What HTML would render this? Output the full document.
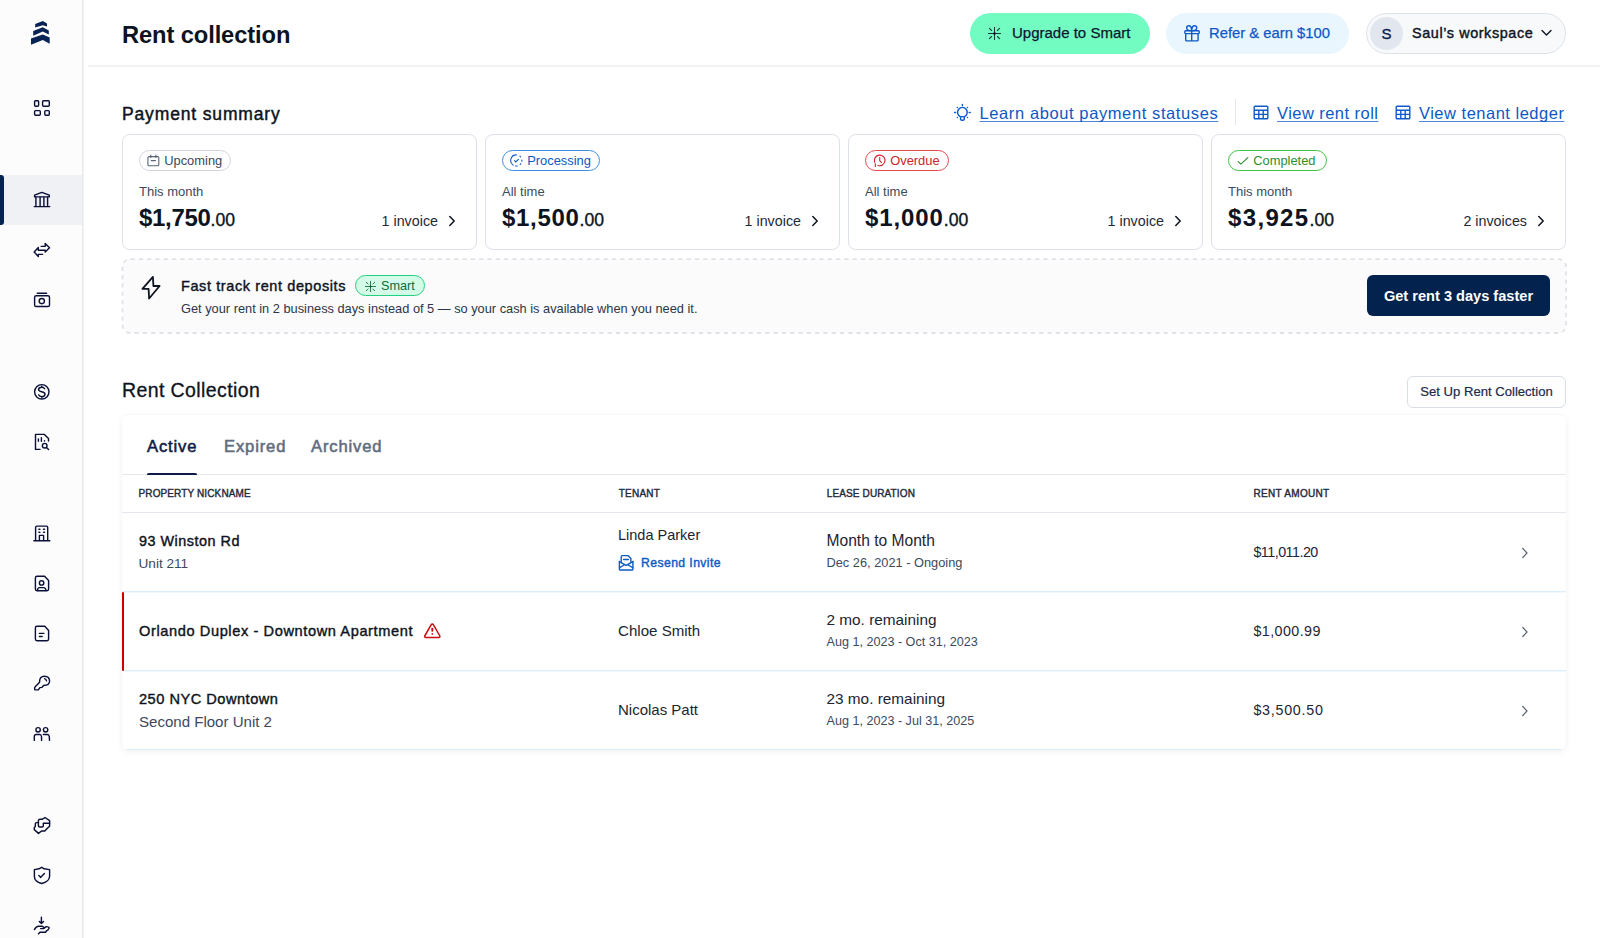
<!DOCTYPE html>
<html lang="en">
<head>
<meta charset="utf-8">
<title>Rent collection</title>
<style>
*{box-sizing:border-box;margin:0;padding:0}
html,body{width:1600px;height:938px;overflow:hidden;background:#fff}
body{font-family:"Liberation Sans",Arial,sans-serif;color:#0d1321;position:relative}
.abs{position:absolute}
.nw{white-space:nowrap}
/* sidebar */
#sb{position:absolute;left:0;top:0;width:83px;height:938px;background:#fcfcfc;border-right:1px solid #e8e9ec;box-shadow:1px 0 0 #f2f3f3}
#sb .act{position:absolute;left:0;top:175px;width:82px;height:50px;background:#eff1f5}
#sb .bar{position:absolute;left:0;top:175px;width:4px;height:50px;background:#062250;border-radius:0 3px 3px 0}
#sbsvg{position:absolute;left:0;top:0}
/* header */
#hdr-line{position:absolute;left:88px;top:65px;width:1512px;height:2px;background:linear-gradient(#eef0f2,#f3f4f5)}
h1{position:absolute;left:122px;top:21px;font-size:23.7px;line-height:28px;font-weight:700;letter-spacing:-0.1px;color:#0d1321}
.pill{position:absolute;top:13px;height:41px;border-radius:21px;display:flex;align-items:center}

.pill .tx{font-size:15px;line-height:18px;white-space:nowrap}
#up{left:970px;width:180px;background:#72fcc2;color:#0d1530}
#ref{left:1166px;width:183px;background:#eaf6fe;color:#0d58c4}
#ws{left:1366px;width:200px;background:#f8f9fb;border:1px solid #dde2ea}
#ws .av{position:absolute;left:3px;top:3px;width:33px;height:33px;border-radius:50%;background:#e2e6ee;color:#0d1d4a;font-size:15px;line-height:33px;text-align:center;-webkit-text-stroke:0.35px #0d1d4a}
.sec-t{position:absolute;font-weight:700;white-space:nowrap}
.lnk{position:absolute;top:103px;font-size:16.5px;line-height:20px;letter-spacing:0.6px;color:#0d58c4;text-decoration:underline;text-decoration-color:#4d89d4;text-decoration-skip-ink:none;text-underline-offset:2.2px;text-decoration-thickness:1px;white-space:nowrap}
.card{position:absolute;top:134px;width:355px;height:116px;border:1px solid #dde2ea;border-radius:8px;background:#fff}
.badge{position:absolute;left:16px;top:15px;height:21px;border:1px solid #d0d5dd;border-radius:11px;font-size:12.9px;line-height:19.6px;white-space:nowrap;padding-left:24.2px;color:#3c4858}
.badge svg{position:absolute;left:7px;top:2.7px}
.card .per{position:absolute;left:16px;top:48.5px;font-size:13px;line-height:16px;color:#3b4a5e;white-space:nowrap}
.card .amt{position:absolute;left:16px;top:69px;font-size:24px;line-height:28px;font-weight:700;color:#0d1321;white-space:nowrap;letter-spacing:-0.3px}
.card .amt small{font-size:17.6px;font-weight:400;-webkit-text-stroke:0.35px #0d1321;letter-spacing:0}
.card .inv{position:absolute;right:38px;top:77px;font-size:14.3px;line-height:18px;color:#1d2939;white-space:nowrap}
.card .chev{position:absolute;right:20px;top:80px}

#ft{position:absolute;left:122px;top:258px;width:1444px;height:75px}
#ft .dash{position:absolute;left:0;top:0}
#ft .t{position:absolute;left:59px;top:19px;font-size:14.5px;line-height:18px;font-weight:400;-webkit-text-stroke:0.4px #0d1321;letter-spacing:0.6px;white-space:nowrap}
#ft .s{position:absolute;left:59px;top:42.5px;font-size:12.8px;line-height:16px;color:#2b3648;white-space:nowrap}
#ft .sm{position:absolute;left:233px;top:17px;width:70px;height:21px;border:1px solid #22d17f;background:#d4fbe8;border-radius:11px;color:#0b6b3d;font-size:12.7px;line-height:20.6px;padding-left:25px;white-space:nowrap}
#ft .btn{position:absolute;left:1245px;top:17px;width:183px;height:41px;background:#03224e;border-radius:6px;color:#fff;font-weight:700;font-size:14.6px;line-height:43px;text-align:center;white-space:nowrap}
#rc-t{position:absolute;left:122px;top:378.2px;font-size:19.5px;letter-spacing:0.4px;line-height:24px;white-space:nowrap;-webkit-text-stroke:0.3px #0d1321}
#setup{position:absolute;left:1407px;top:376px;width:159px;height:32px;border:1px solid #d9dee6;border-radius:6px;font-size:13.1px;line-height:30px;text-align:center;color:#1b2a4a;white-space:nowrap;-webkit-text-stroke:0.2px #1b2a4a}
#tbl{position:absolute;left:122px;top:415px;width:1444px;height:335px;background:#fff;border-radius:6px;overflow:hidden;box-shadow:0 2px 7px rgba(16,24,40,0.05),0 0 2px rgba(16,24,40,0.05)}
.tab{position:absolute;top:21.5px;font-size:16.6px;line-height:20px;font-weight:400;-webkit-text-stroke:0.55px currentColor;letter-spacing:0.85px;white-space:nowrap;color:#5e6c7f}
#tbl .tabline{position:absolute;left:0;top:59px;width:1444px;height:1px;background:#e3e7ed}
#tbl .uline{position:absolute;left:25px;top:57.6px;width:50px;height:2.4px;background:#101c48;border-radius:1.5px 1.5px 0 0}
.th{position:absolute;top:72.5px;font-size:10px;line-height:12px;font-weight:400;-webkit-text-stroke:0.4px #1f2a3c;color:#1f2a3c;white-space:nowrap;letter-spacing:0.12px}
#tbl .hline{position:absolute;left:0;top:97px;width:1444px;height:1px;background:#e3e7ed}
.row{position:absolute;left:0;width:1444px;height:79px;border-bottom:1px solid #dbeefc;box-shadow:0 1px 0 #f1f8fe}
.row .c{position:absolute;white-space:nowrap}
.b14{font-size:14.4px;font-weight:700;color:#0d1321}
.sb{font-weight:400;-webkit-text-stroke:0.4px #0d1321}
.r14{font-size:14.5px;color:#1d2433}
.s14{font-size:14.2px;color:#3b4a5e}
.s12{font-size:12.8px;color:#3b4a5e}
.row .chev{position:absolute;left:1399px;top:34px}
</style>
</head>
<body>
<div id="sb">
  <div class="act"></div>
  <div class="bar"></div>
  <svg id="sbsvg" width="82" height="938" viewBox="0 0 82 938" fill="none" stroke="#0a0f38" stroke-width="1.42" stroke-linecap="round" stroke-linejoin="round">
    <!-- logo -->
    <g fill="#062354" stroke="none">
      <polygon points="35.2,24 42.8,21 47,23.4 47,26.6 42.8,25.3 35.2,27.6"/>
      <polygon points="33.2,31 42.8,27.3 48.8,30.4 48.8,34.6 42.8,31.6 33.2,35.8"/>
      <polygon points="31,38.6 42.8,34.4 49.7,37.4 49.7,43.8 42.8,40.1 31,44.8"/>
    </g>
    <!-- grid -->
    <rect x="34.6" y="100.7" width="4" height="5.5" rx="1"/>
    <rect x="42.6" y="100.7" width="6.7" height="5.5" rx="1"/>
    <rect x="34.6" y="110.6" width="5.7" height="4.7" rx="1"/>
    <rect x="44.8" y="110.6" width="4.5" height="4.7" rx="1"/>
    <!-- bank -->
    <path d="M34.6,195.2 L41.8,192.4 L49.3,195.2 V196.9 H34.6 Z"/>
    <path d="M35.9,197.2 V206.2 M40.1,197.2 V206.2 M43.9,197.2 V206.2 M47.6,197.2 V206.2 M34.2,206.6 H49.8"/>
    <!-- arrows -->
    <path d="M41.2,246.4 H45.2 V243.5 L49.5,247.8 L45.2,252.1 V250.3 H38.3 V247.5 L34.2,252 L38.3,256.4 V254.4 H42.6"/>
    <!-- cash -->
    <path d="M37.3,293.3 H46.6"/>
    <rect x="34.6" y="295.7" width="14.9" height="10.8" rx="1.6"/>
    <circle cx="41.8" cy="301.1" r="2.6"/>
    <!-- dollar -->
    <circle cx="41.8" cy="391.8" r="7.2"/>
    <path d="M44.6,388.8 C44,387.6 43,387.2 41.8,387.2 C40.2,387.2 38.6,388 38.6,389.5 C38.6,392.6 45,391 45,394.2 C45,395.8 43.4,396.6 41.8,396.6 C40.4,396.6 39.2,396 38.6,394.8 M41.8,386.2 V387.2 M41.8,396.6 V397.5"/>
    <!-- doc search -->
    <path d="M40,449.4 H35.5 V434.4 H44.4 L48.5,438.5 V441"/>
    <path d="M38.4,439 V441.2 M41.4,437.6 V441.2 M44.5,440.6 V441"/>
    <circle cx="44.7" cy="445.7" r="2.3"/>
    <path d="M46.4,447.4 L48.6,449.5"/>
    <!-- building -->
    <path d="M35.6,540.6 V527.5 Q35.6,526.1 37,526.1 H46.3 Q47.7,526.1 47.7,527.5 V540.6 M33.9,540.7 H49.8"/>
    <path d="M39.4,540.6 V535.4 H43.6 V540.6"/>
    <path d="M38.9,529.3 H39.9 M43.5,529.3 H44.5 M38.9,532.3 H39.9 M43.5,532.3 H44.5"/>
    <!-- contact doc -->
    <path d="M44.6,576.3 H37 Q35.4,576.3 35.4,577.9 V589.1 Q35.4,590.7 37,590.7 H47 Q48.6,590.7 48.6,589.1 V580.4 Z"/>
    <circle cx="41.6" cy="582.9" r="2.2"/>
    <path d="M37.4,590.5 Q37.6,587.6 39.6,587.6 H43.6 Q45.4,587.6 46,590.2"/>
    <!-- doc -->
    <path d="M44.8,626.3 H37 Q35.4,626.3 35.4,627.9 V639.1 Q35.4,640.7 37,640.7 H47 Q48.6,640.7 48.6,639.1 V630.5 Z"/>
    <path d="M39.4,633.4 H43.9 M39.4,636.5 H42.2"/>
    <!-- key -->
    <path d="M39.6,681.8 Q39.4,676.3 44.4,676.3 Q49.6,676.4 49.6,681.2 Q49.4,685.4 43.6,685.5 L41.8,687.4 L39.9,687.6 L38.5,689.7 L35.4,689.9 Q34.6,689.9 34.6,689 Q34.5,687.6 35.2,686.8 L39.6,682.3"/>
    <path d="M44.6,678.7 Q46.1,679.2 46.5,680.8"/>
    <!-- people -->
    <circle cx="38.1" cy="729.8" r="2.2"/>
    <circle cx="45.6" cy="729.8" r="2.2"/>
    <path d="M34.3,740.4 V736.6 Q34.3,734.5 36.2,734.5 H39.9 Q41.2,734.5 41.5,736.5 L41.6,740.4"/>
    <path d="M43.4,734.5 H47.4 Q48.9,734.5 49.3,736.6 L49.5,740.4"/>
    <!-- handshake/chat -->
    <path d="M38.4,820.5 Q38.6,819.3 40,819.2 H42.5 L45,817.5 L49.6,820.6 V826.3 L47.9,827.8"/>
    <path d="M49.6,823.3 H43.3 V825.8 Q43.3,827 42,827 H39.8 Q38.5,827 38.4,825.6 V820.8"/>
    <path d="M38.4,822.6 H36.5 Q35.3,822.6 35.3,823.8 V826.4 L34.3,827.4 V829.6 L38.5,833.4 L41.5,831 H44.8 L47.4,828.2"/>
    <!-- shield -->
    <path d="M34.4,869.6 L39,868.8 L41.6,867.3 L44.2,868.8 L49.6,869.6 V876.5 Q49.2,881.6 41.6,883.5 Q34.4,881.6 34.4,876.5 Z"/>
    <path d="M38.8,875.4 L40.5,877.4 L44.4,873.4"/>
    <!-- hand -->
    <path d="M41.4,917.2 V923.6 M39.3,921.6 L41.4,923.6 L43.5,921.6"/>
    <path d="M34.4,929.6 Q36.3,926.3 38.5,926.3 H42.4 L44.6,927.8 M40.6,928.6 H43.5 L46.3,926.7 Q48.4,926.4 49.2,927.9 Q48.6,930.2 46.4,931 L45.5,932.2 H40 L38.5,933.8"/>
  </svg>
</div>

<div id="hdr-line"></div>
<h1>Rent collection</h1>


<div class="pill" id="up">
  <svg class="abs" style="left:18px;top:14px" width="13" height="13" viewBox="0 0 13 13" fill="none" stroke="#173a3a" stroke-width="1.05" stroke-linecap="round"><path d="M6.5,0.3V12.7M0.3,6.5H12.7M1.4,1.4L3.6,3.5M11.6,1.4L9.4,3.5M1.4,11.6L3.6,9.5M11.6,11.6L9.4,9.5"/><circle cx="6.5" cy="6.5" r="1.3" fill="#0a1030" stroke="none"/></svg>
  <span class="tx abs" style="left:42px;top:11px;-webkit-text-stroke:0.25px #0d1530">Upgrade to Smart</span>
</div>
<div class="pill" id="ref">
  <svg class="abs" style="left:18px;top:12px" width="16" height="17" viewBox="0 0 16 17" fill="none" stroke="#0d5bc8" stroke-width="1.4" stroke-linejoin="round"><rect x="0.8" y="5.7" width="14.4" height="2.9" rx="0.8"/><path d="M1.7,8.6V15.1Q1.7,15.9 2.5,15.9H13.3Q14.1,15.9 14.1,15.1V8.6M7.7,5.7V15.9"/><path d="M7.7,5.6C4.7,5.6 2.7,4.6 2.7,2.9C2.7,1.4 3.7,0.8 4.9,0.8C6.5,0.8 7.5,2.6 7.7,5.6ZM7.7,5.6C10.7,5.6 12.7,4.6 12.7,2.9C12.7,1.4 11.7,0.8 10.5,0.8C8.9,0.8 7.9,2.6 7.7,5.6Z"/></svg>
  <span class="tx abs" style="left:43px;top:11px;font-size:14.8px;-webkit-text-stroke:0.25px #0d58c4">Refer &amp; earn $100</span>
</div>
<div class="pill" id="ws">
  <div class="av">S</div>
  <span class="tx abs" style="left:45px;top:10px;font-size:14.4px;font-weight:400;-webkit-text-stroke:0.4px #0d1321;letter-spacing:0.6px">Saul’s workspace</span>
  <svg class="abs" style="left:174px;top:15px" width="11" height="8" viewBox="0 0 11 8" fill="none" stroke="#0d1321" stroke-width="1.4" stroke-linecap="round" stroke-linejoin="round"><path d="M1,1.5L5.5,6L10,1.5"/></svg>
</div>

<div class="sec-t" style="left:122px;top:102.3px;font-size:17.5px;line-height:22px;font-weight:400;-webkit-text-stroke:0.45px #0d1321;letter-spacing:0.85px;margin-top:0.6px">Payment summary</div>
<svg class="abs" style="left:953px;top:103px" width="19" height="19" viewBox="0 0 19 19" fill="none" stroke="#0d5bc8" stroke-width="1.45" stroke-linecap="round"><path d="M9.4,1.4V2.4M4.3,4.4V4.5M14.5,4.4V4.5M1.6,9.5H2.6M16.2,9.5H17.2M4.3,14.5V14.6M14.5,14.5V14.6"/><path d="M7.3,13.6A4.85,4.85 0 1 1 11.5,13.6"/><rect x="7.5" y="13.6" width="3.8" height="3.6" rx="1.1"/></svg>
<div class="lnk" style="left:979.5px">Learn about payment statuses</div>
<div class="abs" style="left:1235px;top:99px;width:1px;height:26px;background:#e6e8ec"></div>
<svg class="abs" style="left:1252.5px;top:105px" width="16" height="15" viewBox="0 0 16 15" fill="none" stroke="#0d5bc8" stroke-width="1.4"><rect x="1.2" y="1.2" width="13.6" height="12.6" rx="0.8"/><path d="M1.2,5.2H14.8M1.2,9.4H14.8M5.8,5.2V13.8M10.2,5.2V13.8"/></svg>
<div class="lnk" style="left:1277px;letter-spacing:0.45px">View rent roll</div>
<svg class="abs" style="left:1394.5px;top:105px" width="16" height="15" viewBox="0 0 16 15" fill="none" stroke="#0d5bc8" stroke-width="1.4"><rect x="1.2" y="1.2" width="13.6" height="12.6" rx="0.8"/><path d="M1.2,5.2H14.8M1.2,9.4H14.8M5.8,5.2V13.8M10.2,5.2V13.8"/></svg>
<div class="lnk" style="left:1419px;letter-spacing:0.5px">View tenant ledger</div>

<!-- cards -->
<div class="card" style="left:122px">
  <div class="badge" style="width:92px">
    <svg width="13" height="13" viewBox="0 0 13 13" fill="none" stroke="#5a6677" stroke-width="1.1" stroke-linecap="round"><rect x="0.9" y="2.6" width="10.9" height="9.2" rx="1.3"/><path d="M3.8,1.1V3.4M8.9,1.1V3.4M4.2,6.6H8.5"/></svg>Upcoming</div>
  <div class="per">This month</div>
  <div class="amt">$1,750<small>.00</small></div>
  <div class="inv">1 invoice</div>
  <svg class="chev" width="8" height="12" viewBox="0 0 8 12" fill="none" stroke="#0d1321" stroke-width="1.5" stroke-linecap="round" stroke-linejoin="round"><path d="M1.8,1.5L6.2,6L1.8,10.5"/></svg>
</div>
<div class="card" style="left:485px">
  <div class="badge" style="width:98px;border-color:#3d8fe2;color:#0d58c4">
    <svg width="15" height="15" viewBox="0 0 15 15" fill="none" stroke="#0d5bc8" stroke-width="1.1" stroke-linecap="round"><g transform="translate(-1,-1)"><path d="M7.3,1.9A5.6,5.6 0 0 0 4.09,12.09M10.9,3.21L11.6,3.9M12.88,7.01V8.2M11.89,10.71L11.2,11.5M8.27,13.01H6.6"/><path d="M5.6,7.7L6.7,8.9L9.5,6.3"/></g></svg>Processing</div>
  <div class="per">All time</div>
  <div class="amt" style="letter-spacing:0.7px">$1,500<small>.00</small></div>
  <div class="inv">1 invoice</div>
  <svg class="chev" width="8" height="12" viewBox="0 0 8 12" fill="none" stroke="#0d1321" stroke-width="1.5" stroke-linecap="round" stroke-linejoin="round"><path d="M1.8,1.5L6.2,6L1.8,10.5"/></svg>
</div>
<div class="card" style="left:848px">
  <div class="badge" style="width:84px;border-color:#e5484d;color:#c8262c">
    <svg width="13" height="13" viewBox="0 0 13 13" fill="none" stroke="#d0202a" stroke-width="1.1" stroke-linecap="round" stroke-linejoin="round"><path transform="translate(-0.6,0.6)" d="M2.3,7.6A5.3,5.3 0 1 1 5.5,10.8M7.3,2.9V6L9,7.8M2.9,8.9V12.3"/></svg>Overdue</div>
  <div class="per">All time</div>
  <div class="amt" style="letter-spacing:0.9px">$1,000<small>.00</small></div>
  <div class="inv">1 invoice</div>
  <svg class="chev" width="8" height="12" viewBox="0 0 8 12" fill="none" stroke="#0d1321" stroke-width="1.5" stroke-linecap="round" stroke-linejoin="round"><path d="M1.8,1.5L6.2,6L1.8,10.5"/></svg>
</div>
<div class="card" style="left:1211px">
  <div class="badge" style="width:99px;border-color:#3fc43f;color:#2c8f2c">
    <svg width="13" height="13" viewBox="0 0 13 13" fill="none" stroke="#2a8a2a" stroke-width="1.1" stroke-linecap="round" stroke-linejoin="round"><path d="M2.2,7.6L4.85,10.05L11.9,3.55"/></svg>Completed</div>
  <div class="per">This month</div>
  <div class="amt" style="letter-spacing:1.35px">$3,925<small>.00</small></div>
  <div class="inv">2 invoices</div>
  <svg class="chev" width="8" height="12" viewBox="0 0 8 12" fill="none" stroke="#0d1321" stroke-width="1.5" stroke-linecap="round" stroke-linejoin="round"><path d="M1.8,1.5L6.2,6L1.8,10.5"/></svg>
</div>

<div id="ft">
  <svg class="dash" width="1446" height="77" viewBox="0 0 1446 77" style="overflow:visible"><rect x="0.5" y="1.1" width="1443.6" height="73.9" rx="8" fill="#fbfbfc" stroke="#e0e4ea" stroke-width="1.9" stroke-dasharray="4.2 4.1"/></svg>
  <svg class="abs" style="left:19px;top:17px" width="22" height="26" viewBox="0 0 22 26" fill="none" stroke="#0d1321" stroke-width="1.8" stroke-linejoin="round" stroke-linecap="round"><path d="M11.9,1.9L1.4,13.9H7.6L8.1,23.5L18.6,11H12.4Z"/></svg>
  <div class="t">Fast track rent deposits</div>
  <div class="sm"><svg class="abs" style="left:9px;top:4.5px" width="11" height="11" viewBox="0 0 11 11" fill="none" stroke="#1f7a4a" stroke-width="0.95" stroke-linecap="round"><path d="M5.5,0.4V10.6M0.4,5.5H10.6M1.3,1.3L3.1,3M9.7,1.3L7.9,3M1.3,9.7L3.1,8M9.7,9.7L7.9,8"/><circle cx="5.5" cy="5.5" r="1.1" fill="#0b5a32" stroke="none"/></svg>Smart</div>
  <div class="s">Get your rent in 2 business days instead of 5 — so your cash is available when you need it.</div>
  <div class="btn">Get rent 3 days faster</div>
</div>

<div id="rc-t">Rent Collection</div>
<div id="setup">Set Up Rent Collection</div>

<div id="tbl">
  <div class="tab" style="left:25px;color:#101c48">Active</div>
  <div class="tab" style="left:102px">Expired</div>
  <div class="tab" style="left:189px">Archived</div>
  <div class="tabline"></div>
  <div class="uline"></div>
  <div class="th" style="left:16.5px">PROPERTY NICKNAME</div>
  <div class="th" style="left:496.8px;letter-spacing:0.2px">TENANT</div>
  <div class="th" style="left:704.8px">LEASE DURATION</div>
  <div class="th" style="left:1131.6px;letter-spacing:0.3px">RENT AMOUNT</div>
  <div class="hline"></div>

  <div class="row" style="top:98px">
    <div class="c b14 sb" style="left:17px;top:19px;line-height:18px;letter-spacing:0.5px">93 Winston Rd</div>
    <div class="c s14" style="left:16.5px;top:42px;line-height:18px;font-size:13.6px">Unit 211</div>
    <div class="c r14" style="left:496px;top:13px;line-height:18px">Linda Parker</div>
    <svg class="abs" style="left:495px;top:41px" width="19" height="18" viewBox="0 0 19 18" fill="none" stroke="#0d5bc8" stroke-width="1.4" stroke-linejoin="round" stroke-linecap="round"><path d="M2.4,7.4V15.2Q2.4,16 3.2,16H15.1Q15.9,16 15.9,15.2V7.4"/><path d="M4.2,8.4V2.8Q4.2,1.6 5.4,1.6H11L13.9,4.4V8.4"/><path d="M2.4,7.6L9.1,11.4L15.9,7.6M2.5,13.6L7.2,11M15.8,13.6L11.1,11"/><path d="M6.6,5.5H11.4"/></svg>
    <div class="c" style="left:519px;top:41.5px;line-height:16px;font-size:12.2px;font-weight:400;-webkit-text-stroke:0.4px #0d5bc8;letter-spacing:0.42px;color:#0d5bc8">Resend Invite</div>
    <div class="c r14" style="left:704.5px;top:19px;line-height:18px;font-size:15.6px">Month to Month</div>
    <div class="c s12" style="left:704.5px;top:41.9px;line-height:16px">Dec 26, 2021 - Ongoing</div>
    <div class="c r14" style="left:1131.4px;top:29.6px;line-height:18px;font-size:14.3px;letter-spacing:-0.5px">$11,011.20</div>
    <svg class="chev" width="8" height="12" viewBox="0 0 8 12" fill="none" stroke="#5b6472" stroke-width="1.2" stroke-linecap="round" stroke-linejoin="round"><path d="M1.8,1.5L6,6L1.8,10.5"/></svg>
  </div>
  <div class="row" style="top:177px">
    <div class="abs" style="left:0;top:0;width:2px;height:79px;background:#cc0000;border-radius:1px"></div>
    <div class="c b14 sb" style="left:17px;top:29.5px;line-height:18px;font-size:14.6px;letter-spacing:0.6px">Orlando Duplex - Downtown Apartment</div>
    <svg class="abs" style="left:301px;top:30px" width="19" height="17" viewBox="0 0 19 17" fill="none" stroke="#cc0a10" stroke-width="1.5" stroke-linejoin="round" stroke-linecap="round"><path d="M8.1,2.9Q9.3,0.9 10.5,2.9L16.6,13.5Q17.7,15.4 15.5,15.4H3.1Q0.9,15.4 2,13.5Z"/><path d="M9.3,6.6V8.8" stroke-width="1.9"/><circle cx="9.3" cy="11.9" r="0.85" fill="#cc0a10" stroke="none"/></svg>
    <div class="c r14" style="left:496px;top:29.5px;line-height:18px;font-size:15.1px">Chloe Smith</div>
    <div class="c r14" style="left:704.5px;top:18.5px;line-height:18px;font-size:15.35px">2 mo. remaining</div>
    <div class="c s12" style="left:704.5px;top:42px;line-height:16px;font-size:12.6px">Aug 1, 2023 - Oct 31, 2023</div>
    <div class="c r14" style="left:1131.4px;top:29.6px;line-height:18px;font-size:14.3px;letter-spacing:0.42px">$1,000.99</div>
    <svg class="chev" width="8" height="12" viewBox="0 0 8 12" fill="none" stroke="#5b6472" stroke-width="1.2" stroke-linecap="round" stroke-linejoin="round"><path d="M1.8,1.5L6,6L1.8,10.5"/></svg>
  </div>
  <div class="row" style="top:256px">
    <div class="c b14 sb" style="left:17px;top:19px;line-height:18px;font-size:14.6px;letter-spacing:0.5px">250 NYC Downtown</div>
    <div class="c s14" style="left:17px;top:42px;line-height:18px;font-size:15.05px">Second Floor Unit 2</div>
    <div class="c r14" style="left:496px;top:29.5px;line-height:18px;font-size:15px">Nicolas Patt</div>
    <div class="c r14" style="left:704.5px;top:18.5px;line-height:18px;font-size:15.35px">23 mo. remaining</div>
    <div class="c s12" style="left:704.5px;top:42px;line-height:16px;font-size:12.6px">Aug 1, 2023 - Jul 31, 2025</div>
    <div class="c r14" style="left:1131.4px;top:29.6px;line-height:18px;font-size:14.3px;letter-spacing:0.74px">$3,500.50</div>
    <svg class="chev" width="8" height="12" viewBox="0 0 8 12" fill="none" stroke="#5b6472" stroke-width="1.2" stroke-linecap="round" stroke-linejoin="round"><path d="M1.8,1.5L6,6L1.8,10.5"/></svg>
  </div>
</div>
</body>
</html>
